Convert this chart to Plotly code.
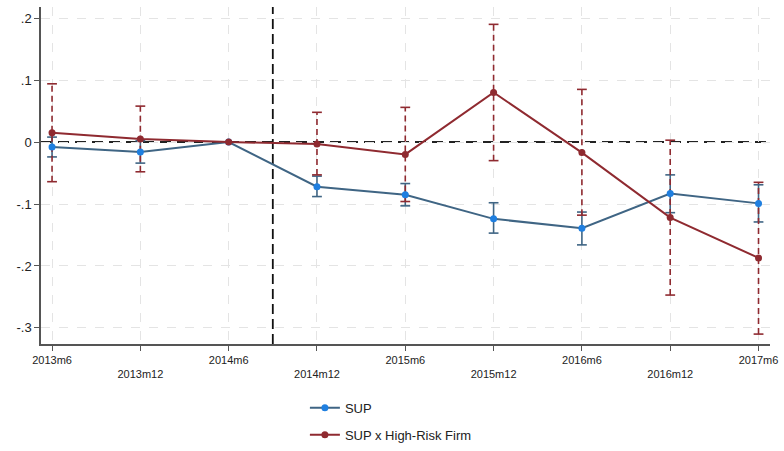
import plotly.graph_objects as go

periods = ["2013m6", "2013m12", "2014m6", "2014m12", "2015m6",
           "2015m12", "2016m6", "2016m12", "2017m6"]

sup_coef = [-0.008, -0.016, 0.0, -0.072, -0.085, -0.124, -0.139, -0.083, -0.099]
sup_lo = [-0.024, -0.034, 0.0, -0.088, -0.103, -0.147, -0.166, -0.114, -0.129]
sup_hi = [0.008, 0.002, 0.0, -0.055, -0.067, -0.098, -0.113, -0.053, -0.069]

risk_coef = [0.015, 0.005, 0.0, -0.003, -0.020, 0.080, -0.017, -0.122, -0.187]
risk_lo = [-0.064, -0.048, 0.0, -0.053, -0.096, -0.030, -0.118, -0.247, -0.310]
risk_hi = [0.094, 0.058, 0.0, 0.048, 0.056, 0.190, 0.085, 0.003, -0.065]

y_ticks = [0.2, 0.1, 0.0, -0.1, -0.2, -0.3]
y_labels = [".2", ".1", "0", "-.1", "-.2", "-.3"]

BLUE_LINE = "#3f6584"
BLUE_MARK = "#1f7fe0"
RED = "#8f2a30"

x = list(range(len(periods)))
x_labels = [p if i % 2 == 0 else "<br>" + p for i, p in enumerate(periods)]


def ci_segments(lo, hi):
    xs, ys = [], []
    for i, (a, b) in enumerate(zip(lo, hi)):
        if a == b:
            continue
        xs += [i, i, None]
        ys += [a, b, None]
    return xs, ys


def ci_caps(lo, hi):
    xs, ys = [], []
    for i, (a, b) in enumerate(zip(lo, hi)):
        if a == b:
            continue
        xs += [i, i]
        ys += [a, b]
    return xs, ys


fig = go.Figure()

# confidence intervals: blue solid, red dashed
for lo, hi, col, dash in [(sup_lo, sup_hi, BLUE_LINE, "solid"),
                          (risk_lo, risk_hi, RED, "6px,4px")]:
    sx, sy = ci_segments(lo, hi)
    fig.add_trace(go.Scatter(x=sx, y=sy, mode="lines",
                             line=dict(color=col, width=1.6, dash=dash),
                             showlegend=False, hoverinfo="skip"))
    cx, cy = ci_caps(lo, hi)
    fig.add_trace(go.Scatter(x=cx, y=cy, mode="markers",
                             marker=dict(symbol="line-ew-open", size=7, color=col,
                                         line=dict(color=col, width=1.6)),
                             showlegend=False, hoverinfo="skip"))

fig.add_trace(go.Scatter(x=x, y=sup_coef, mode="lines+markers", name="SUP",
                         legendgroup="sup",
                         line=dict(color=BLUE_LINE, width=2),
                         marker=dict(color=BLUE_MARK, size=7)))
fig.add_trace(go.Scatter(x=x, y=risk_coef, mode="lines+markers",
                         name="SUP x High-Risk Firm", legendgroup="risk",
                         line=dict(color=RED, width=2),
                         marker=dict(color=RED, size=7)))

# reference lines (above the grid, beneath the data)
fig.add_shape(type="line", xref="paper", yref="y", x0=0, x1=1, y0=0, y1=0,
              line=dict(color="#222222", width=2, dash="11px,6px"), layer="between")
fig.add_shape(type="line", xref="x", yref="paper", x0=2.5, x1=2.5, y0=0, y1=1,
              line=dict(color="#111111", width=1.8, dash="10px,5px"), layer="between")

fig.update_layout(
    width=784, height=451,
    margin=dict(l=41, r=14, t=7, b=107, autoexpand=False),
    paper_bgcolor="white", plot_bgcolor="white",
    font=dict(family="Liberation Sans, Arial, sans-serif", color="#222222"),
    legend=dict(x=0.362, y=-0.145, xanchor="left", yanchor="top",
                font=dict(size=13), tracegroupgap=7, itemwidth=30),
    xaxis=dict(range=[-0.125, 8.13], tickmode="array", tickvals=x,
               ticktext=x_labels, tickfont=dict(size=11),
               showgrid=True, gridcolor="#e4e4e4", griddash="dash", gridwidth=1,
               ticks="outside", ticklen=5, tickcolor="#555555",
               showline=True, linecolor="#555555", linewidth=1.5,
               zeroline=False),
    yaxis=dict(range=[-0.326, 0.218], tickmode="array", tickvals=y_ticks,
               ticktext=y_labels, tickfont=dict(size=13),
               showgrid=True, gridcolor="#e4e4e4", griddash="dash", gridwidth=1,
               ticks="outside", ticklen=5, tickcolor="#555555",
               showline=True, linecolor="#555555", linewidth=1.5,
               zeroline=False),
)

fig.write_html("out.html")
